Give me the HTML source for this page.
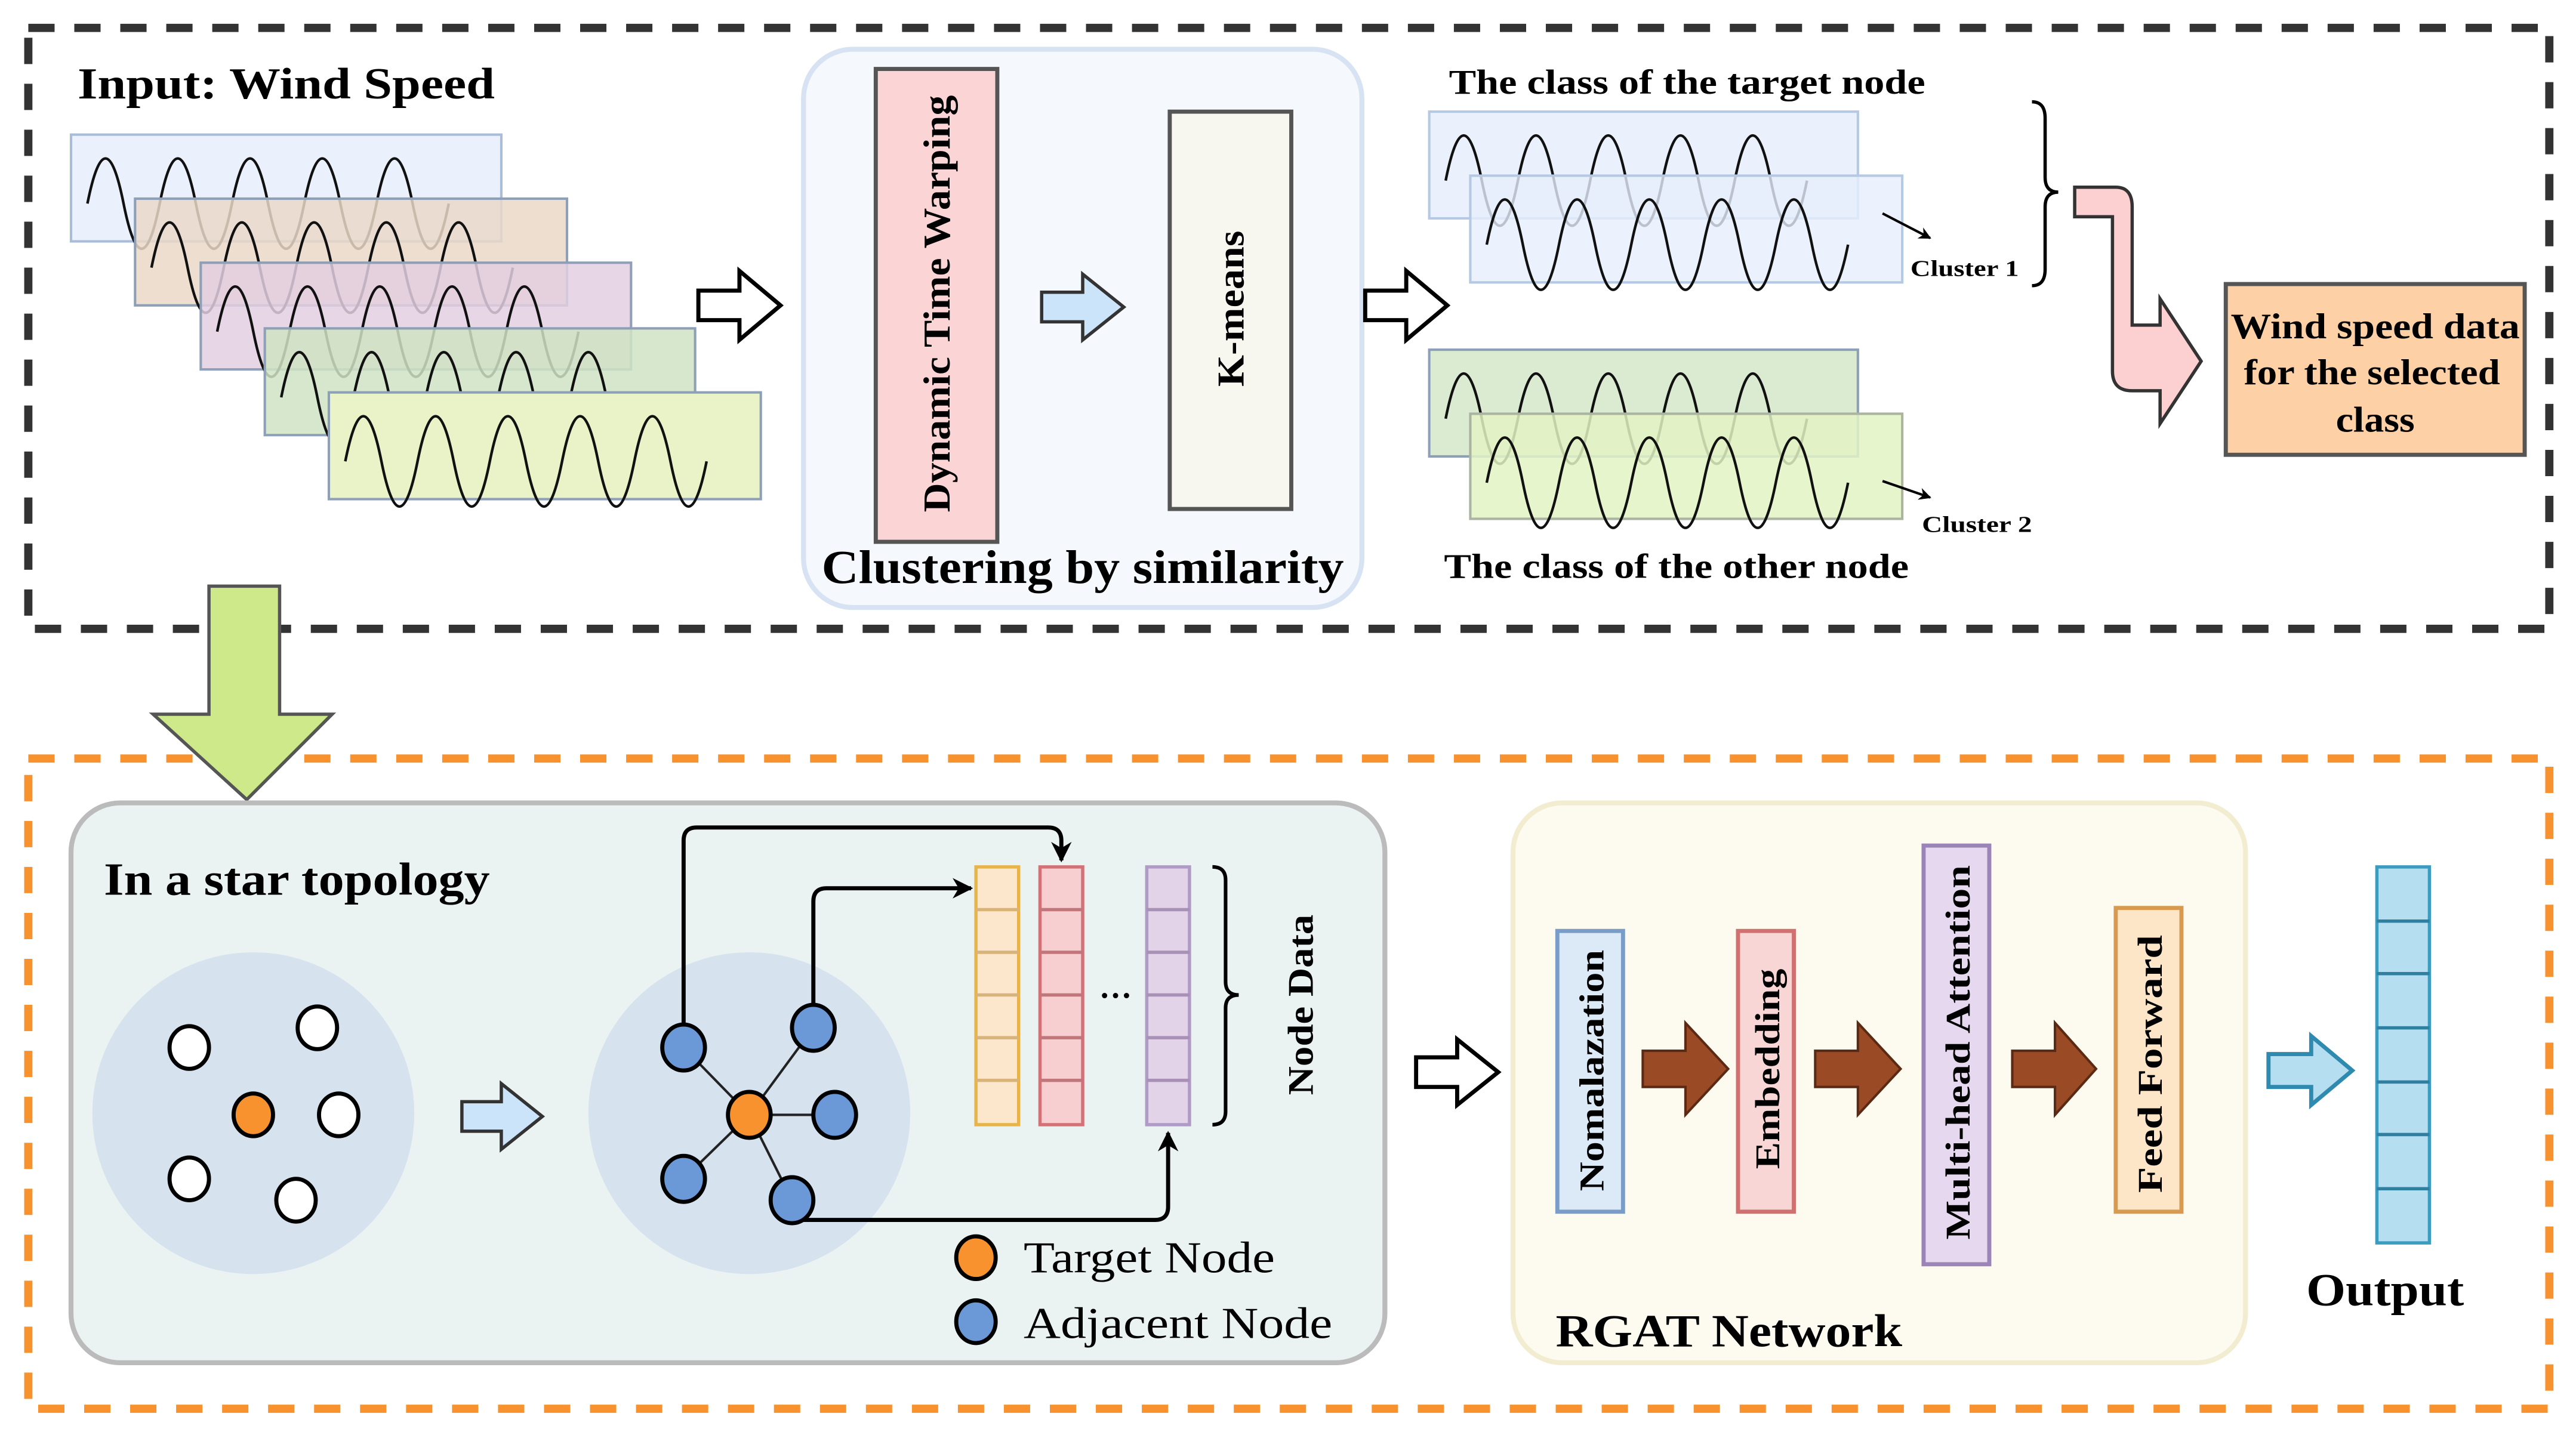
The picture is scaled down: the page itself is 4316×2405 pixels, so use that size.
<!DOCTYPE html>
<html><head><meta charset="utf-8"><style>html,body{margin:0;padding:0;background:#fff}svg{display:block}text{font-family:"Liberation Serif",serif;font-weight:bold;fill:#000}</style></head>
<body>
<svg width="4316" height="2405" viewBox="0 0 1568 874" xmlns="http://www.w3.org/2000/svg">
<defs>
<path id="w" d="M0,42 q11,-55 22,0 t22,0 t22,0 t22,0 t22,0 t22,0 t22,0 t22,0 t22,0 t22,0" fill="none" stroke="#111" stroke-width="1.6"/>
<marker id="ah" viewBox="0 0 10 10" refX="9" refY="5" markerWidth="5" markerHeight="5" orient="auto"><path d="M0,0 L10,5 L0,10 L3,5 z" fill="#000"/></marker>
</defs>
<!-- top dashed box -->
<rect x="17" y="17" width="1535" height="366" fill="none" stroke="#333" stroke-width="5" stroke-dasharray="16,12"/>
<rect x="17" y="462" width="1535" height="396" fill="none" stroke="#f7922f" stroke-width="5" stroke-dasharray="16,12"/>

<text x="47" y="60" font-size="27" textLength="254" lengthAdjust="spacingAndGlyphs">Input: Wind Speed</text>
<g stroke-width="1.5">
<rect x="43" y="82" width="262" height="65" fill="#e6effc" fill-opacity="0.85" stroke="#a9bcd8"/>
<use href="#w" x="53" y="82"/>
<rect x="82" y="121" width="263" height="65" fill="#ead8c8" fill-opacity="0.85" stroke="#8ea0b8"/>
<use href="#w" x="92" y="121"/>
<rect x="122" y="160" width="262" height="65" fill="#e3cfe0" fill-opacity="0.85" stroke="#8ea0b8"/>
<use href="#w" x="132" y="160"/>
<rect x="161" y="200" width="262" height="65" fill="#cfe3c4" fill-opacity="0.85" stroke="#8ea0b8"/>
<use href="#w" x="171" y="200"/>
<rect x="200" y="239" width="263" height="65" fill="#eaf2c8" stroke="#8ea0b8"/>
<use href="#w" x="210" y="239"/>
</g>
<path d="M425,177 L450,177 L450,165 L475,186 L450,207 L450,195 L425,195 Z" fill="#fff" stroke="#000" stroke-width="2.5"/>

<rect x="489" y="30" width="340" height="340" rx="30" fill="#f5f8fd" stroke="#d7e2f2" stroke-width="3"/>
<rect x="533" y="42" width="74" height="288" fill="#fbd5d5" stroke="#555" stroke-width="2.5"/>
<text transform="translate(578,185) rotate(-90)" text-anchor="middle" font-size="23" textLength="254" lengthAdjust="spacingAndGlyphs">Dynamic Time Warping</text>
<path d="M634,178 L659,178 L659,167 L684,187 L659,207 L659,196 L634,196 Z" fill="#cce4fa" stroke="#333" stroke-width="2"/>
<rect x="712" y="68" width="74" height="242" fill="#f7f7f0" stroke="#555" stroke-width="2.5"/>
<text transform="translate(757,188) rotate(-90)" text-anchor="middle" font-size="23" textLength="95" lengthAdjust="spacingAndGlyphs">K-means</text>
<text x="500" y="355" font-size="29" textLength="318" lengthAdjust="spacingAndGlyphs">Clustering by similarity</text>
<path d="M831,177 L856,177 L856,165 L881,186 L856,207 L856,195 L831,195 Z" fill="#fff" stroke="#000" stroke-width="2.5"/>

<text x="882" y="57" font-size="21" textLength="290" lengthAdjust="spacingAndGlyphs">The class of the target node</text>
<g stroke-width="1.5">
<rect x="870" y="68" width="261" height="65" fill="#e6effc" fill-opacity="0.85" stroke="#b5c8e4"/>
<use href="#w" x="880" y="68"/>
<rect x="895" y="107" width="263" height="65" fill="#e6effc" fill-opacity="0.8" stroke="#b5c8e4"/>
<use href="#w" x="905" y="107"/>
<rect x="870" y="213" width="261" height="65" fill="#d6e9cc" fill-opacity="0.9" stroke="#8ea0b8"/>
<use href="#w" x="880" y="213"/>
<rect x="895" y="252" width="263" height="64" fill="#e3f3c4" fill-opacity="0.85" stroke="#aab4a0"/>
<use href="#w" x="905" y="252"/>
</g>
<line x1="1146" y1="130" x2="1175" y2="145" stroke="#000" stroke-width="1.5" marker-end="url(#ah)"/>
<text x="1163" y="168" font-size="14" textLength="66" lengthAdjust="spacingAndGlyphs">Cluster 1</text>
<line x1="1146" y1="293" x2="1175" y2="303" stroke="#000" stroke-width="1.5" marker-end="url(#ah)"/>
<text x="1170" y="324" font-size="14" textLength="67" lengthAdjust="spacingAndGlyphs">Cluster 2</text>
<text x="879" y="352" font-size="21" textLength="283" lengthAdjust="spacingAndGlyphs">The class of the other node</text>
<path d="M1237,62 q8,0 8,10 L1245,108 q0,9 8,9 q-8,0 -8,9 L1245,164 q0,10 -8,10" fill="none" stroke="#000" stroke-width="2"/>
<path d="M1263,114 L1288,114 q10,0 10,12 L1298,198 L1315,198 L1315,182 L1340,220 L1315,258 L1315,238 L1298,238 q-12,0 -12,-12 L1286,132 L1263,132 Z" fill="#fccfd0" stroke="#333" stroke-width="2"/>
<rect x="1355" y="173" width="182" height="104" fill="#fdd0a5" stroke="#555" stroke-width="2.5"/>
<text x="1446" y="206" text-anchor="middle" font-size="22" textLength="176" lengthAdjust="spacingAndGlyphs">Wind speed data</text>
<text x="1444" y="234" text-anchor="middle" font-size="22" textLength="156" lengthAdjust="spacingAndGlyphs">for the selected</text>
<text x="1446" y="263" text-anchor="middle" font-size="22" textLength="48" lengthAdjust="spacingAndGlyphs">class</text>

<!-- green arrow -->
<path d="M127,357 L170,357 L170,435 L202,435 L150,487 L93,435 L127,435 Z" fill="#cde98a" stroke="#555" stroke-width="2"/>

<!-- bottom -->
<rect x="43" y="489" width="800" height="341" rx="30" fill="#ebf2f2" stroke="#bbb" stroke-width="3"/>
<text x="63" y="545" font-size="28" textLength="235" lengthAdjust="spacingAndGlyphs">In a star topology</text>
<circle cx="154" cy="678" r="98" fill="#d6e3ee"/>
<g stroke="#000" stroke-width="2.5">
<ellipse cx="115" cy="638" rx="12" ry="13" fill="#fff"/>
<ellipse cx="193" cy="626" rx="12" ry="13" fill="#fff"/>
<ellipse cx="206" cy="679" rx="12" ry="13" fill="#fff"/>
<ellipse cx="115" cy="718" rx="12" ry="13" fill="#fff"/>
<ellipse cx="180" cy="731" rx="12" ry="13" fill="#fff"/>
<ellipse cx="154" cy="679" rx="12" ry="13" fill="#f7922f"/>
</g>
<path d="M281,671 L305,671 L305,660 L330,680 L305,700 L305,689 L281,689 Z" fill="#cce4fa" stroke="#333" stroke-width="2"/>
<circle cx="456" cy="678" r="98" fill="#d6e3ee"/>
<g stroke="#222" stroke-width="1.5">
<line x1="456" y1="679" x2="416" y2="638"/><line x1="456" y1="679" x2="495" y2="626"/><line x1="456" y1="679" x2="508" y2="679"/><line x1="456" y1="679" x2="416" y2="718"/><line x1="456" y1="679" x2="482" y2="731"/>
</g>
<g fill="none" stroke="#000" stroke-width="2.5">
<path d="M416,626 L416,512 q0,-8 8,-8 L638,504 q8,0 8,8 L646,524" marker-end="url(#ah)"/>
<path d="M495,614 L495,549 q0,-8 8,-8 L591,541" marker-end="url(#ah)"/>
<path d="M482,743 L703,743 q8,0 8,-8 L711,690" marker-end="url(#ah)"/>
</g>
<g stroke="#000" stroke-width="2.5">
<ellipse cx="416" cy="638" rx="13" ry="14" fill="#6b98d6"/>
<ellipse cx="495" cy="626" rx="13" ry="14" fill="#6b98d6"/>
<ellipse cx="508" cy="679" rx="13" ry="14" fill="#6b98d6"/>
<ellipse cx="416" cy="718" rx="13" ry="14" fill="#6b98d6"/>
<ellipse cx="482" cy="731" rx="13" ry="14" fill="#6b98d6"/>
<ellipse cx="456" cy="679" rx="13" ry="14" fill="#f7922f"/>
</g>
<g stroke-width="2">
<rect x="594" y="528" width="26" height="157" fill="#fde7cc" stroke="#e8b44a"/>
<path d="M594,554h26M594,580h26M594,606h26M594,632h26M594,658h26" stroke="#d8b47a"/>
<rect x="633" y="528" width="26" height="157" fill="#f8cfd0" stroke="#d27276"/>
<path d="M633,554h26M633,580h26M633,606h26M633,632h26M633,658h26" stroke="#c0767a"/>
<rect x="698" y="528" width="26" height="157" fill="#e3d3e9" stroke="#b09bc6"/>
<path d="M698,554h26M698,580h26M698,606h26M698,632h26M698,658h26" stroke="#a890b6"/>
</g>
<text x="679" y="613" font-size="20" text-anchor="middle">···</text>
<path d="M738,528 q8,0 8,8 L746,598 q0,8 8,8 q-8,0 -8,8 L746,677 q0,8 -8,8" fill="none" stroke="#000" stroke-width="2.2"/>
<text transform="translate(799,612) rotate(-90)" text-anchor="middle" font-size="22" textLength="110" lengthAdjust="spacingAndGlyphs">Node Data</text>
<ellipse cx="594" cy="766" rx="12" ry="13" fill="#f7922f" stroke="#000" stroke-width="2.5"/>
<text x="623" y="775" font-size="27" font-weight="normal" style="font-weight:normal" textLength="153" lengthAdjust="spacingAndGlyphs">Target Node</text>
<ellipse cx="594" cy="805" rx="12" ry="13" fill="#6b98d6" stroke="#000" stroke-width="2.5"/>
<text x="623" y="815" font-size="27" style="font-weight:normal" textLength="188" lengthAdjust="spacingAndGlyphs">Adjacent Node</text>

<path d="M862,644 L887,644 L887,633 L912,653 L887,673 L887,662 L862,662 Z" fill="#fff" stroke="#000" stroke-width="2.5"/>
<rect x="921" y="489" width="446" height="341" rx="30" fill="#fdfbef" stroke="#f2ecd0" stroke-width="3"/>
<g stroke-width="2.5">
<rect x="948" y="567" width="40" height="171" fill="#dce9f7" stroke="#7a9cc8"/>
<rect x="1058" y="567" width="34" height="171" fill="#f9d6d6" stroke="#d07070"/>
<rect x="1171" y="515" width="40" height="255" fill="#e5d8ef" stroke="#9b85b8"/>
<rect x="1288" y="553" width="40" height="185" fill="#fde5c8" stroke="#d89a50"/>
</g>
<text transform="translate(976,652) rotate(-90)" text-anchor="middle" font-size="21" textLength="147" lengthAdjust="spacingAndGlyphs">Nomalazation</text>
<text transform="translate(1083,651) rotate(-90)" text-anchor="middle" font-size="21" textLength="122" lengthAdjust="spacingAndGlyphs">Embedding</text>
<text transform="translate(1199,641) rotate(-90)" text-anchor="middle" font-size="21" textLength="228" lengthAdjust="spacingAndGlyphs">Multi-head Attention</text>
<text transform="translate(1316,648) rotate(-90)" text-anchor="middle" font-size="21" textLength="157" lengthAdjust="spacingAndGlyphs">Feed Forward</text>
<g fill="#9b4a26" stroke="#5a2a14" stroke-width="1.5">
<path d="M1000,640 L1026,640 L1026,623 L1052,651 L1026,679 L1026,662 L1000,662 Z"/>
<path d="M1105,640 L1131,640 L1131,623 L1157,651 L1131,679 L1131,662 L1105,662 Z"/>
<path d="M1225,640 L1251,640 L1251,623 L1276,651 L1251,679 L1251,662 L1225,662 Z"/>
</g>
<text x="947" y="820" font-size="28" textLength="211" lengthAdjust="spacingAndGlyphs">RGAT Network</text>
<path d="M1381,642 L1407,642 L1407,631 L1432,652 L1407,673 L1407,662 L1381,662 Z" fill="#b5def0" stroke="#2f8ab0" stroke-width="2.5"/>
<rect x="1447" y="528" width="32" height="229" fill="#b5def0" stroke="#3c9cc0" stroke-width="2"/>
<path d="M1447,561h32M1447,593h32M1447,626h32M1447,659h32M1447,691h32M1447,724h32" stroke="#2f7fa0" stroke-width="2"/>
<text x="1404" y="795" font-size="28" textLength="96" lengthAdjust="spacingAndGlyphs">Output</text>
</svg>
</body></html>
